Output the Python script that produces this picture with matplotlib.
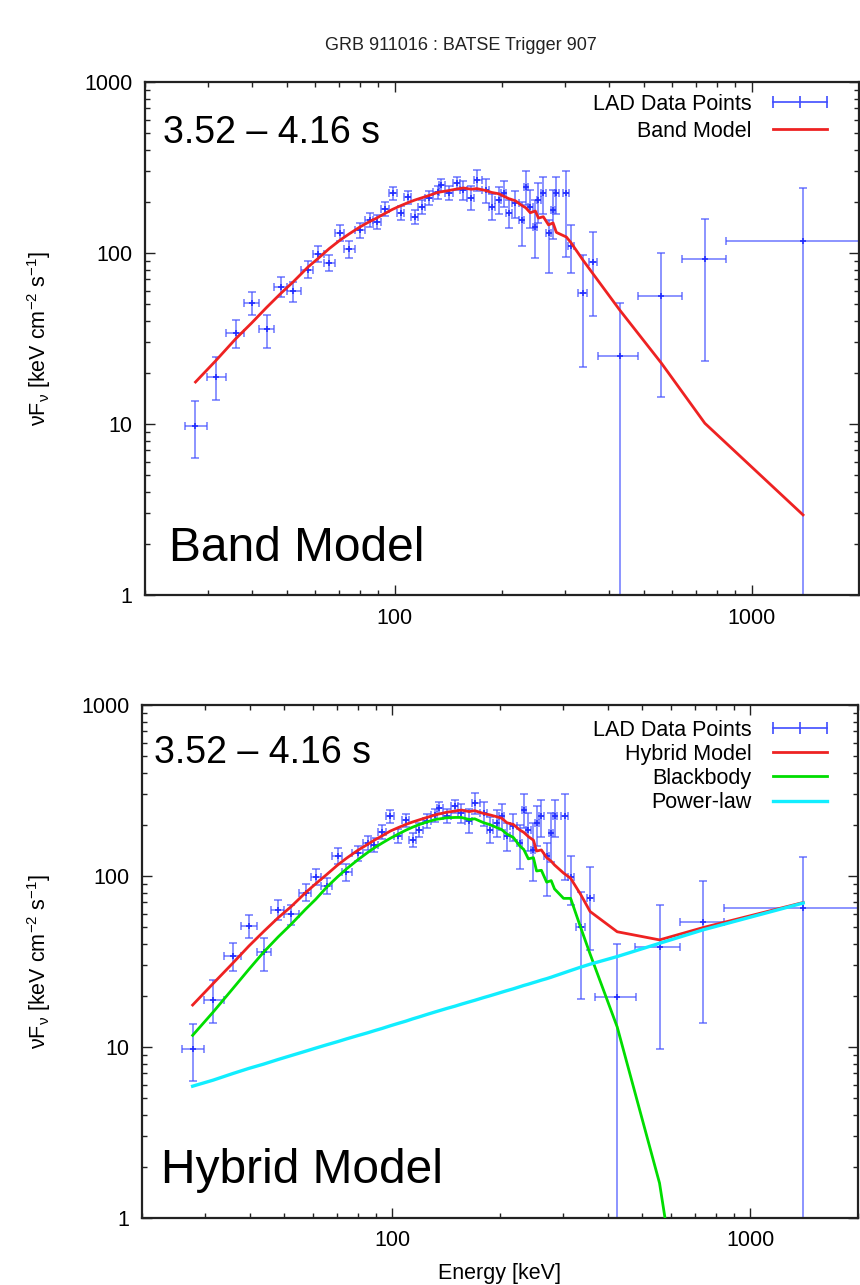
import numpy as np
import matplotlib
matplotlib.use("Agg")
import matplotlib.pyplot as plt
from matplotlib.lines import Line2D
from matplotlib.ticker import FixedLocator, LogLocator, NullFormatter

plt.rcParams['font.family'] = ['Liberation Sans', 'DejaVu Sans']
plt.rcParams['mathtext.default'] = 'regular'

# LAD data points, shared low-energy part (keV, keV cm^-2 s^-1)
low_E = [27.7, 31.6, 35.9, 39.8, 43.8, 48.0, 52.1, 57.3, 61.1, 65.6, 70.4, 74.5,
         80.0, 85.3, 89.1, 93.8, 98.7, 104, 109, 114, 119, 125, 132, 135, 142,
         150, 156, 164, 170, 180, 187, 196, 202, 209, 218, 227, 233, 240, 248,
         253, 261, 270, 278, 284, 303]
low_E_lo = [25.9, 29.8, 33.8, 37.9, 41.8, 46.0, 50.0, 54.8, 59.2, 63.4, 68.0,
            72.4, 77.3, 82.7, 87.2, 91.5, 96.2, 101.3, 106.5, 111.5, 116.5, 122,
            128.5, 133.5, 138.5, 146, 153, 160, 167, 175.5, 183.5, 191.5, 199,
            205.5, 213.5, 222.5, 230, 236.5, 244, 250.5, 257, 265.5, 274, 281, 297]
low_E_hi = [29.8, 33.8, 37.9, 41.8, 46.0, 50.0, 54.8, 59.2, 63.4, 68.0, 72.4,
            77.3, 82.7, 87.2, 91.5, 96.2, 101.3, 106.5, 111.5, 116.5, 122, 128.5,
            133.5, 138.5, 146, 153, 160, 167, 175.5, 183.5, 191.5, 199, 205.5,
            213.5, 222.5, 230, 236.5, 244, 250.5, 257, 265.5, 274, 281, 288, 309]
low_F = [9.7, 18.8, 34, 51, 36, 63, 60, 80, 99, 87.5, 131, 105, 136, 156, 152,
         181, 224, 171, 212, 162, 186, 210, 227, 250, 224, 256, 233, 210, 267,
         233, 186, 204, 224, 171, 196, 156, 243, 186, 142, 204, 224, 131, 178,
         224, 224]
low_F_lo = [6.3, 13.8, 27.8, 43.4, 28, 55, 52, 71, 89, 78, 118, 94, 123, 141,
            138, 165, 205, 155, 194, 147, 169, 192, 207, 229, 204, 234, 205, 178,
            230, 195, 155, 168, 185, 140, 160, 110, 190, 140, 94, 150, 170, 76,
            120, 170, 95]
low_F_hi = [13.6, 24.7, 40.5, 59, 43.4, 72, 68, 90, 110, 98, 145, 117, 150, 172,
            167, 198, 244, 188, 231, 178, 204, 229, 248, 272, 245, 280, 262, 245,
            305, 272, 220, 242, 265, 205, 232, 200, 300, 235, 204, 255, 280, 156,
            235, 280, 300]

# high-energy points, Band fit panel
band_tail_E = [312, 337, 359, 427, 559, 740, 1394]
band_tail_E_lo = [306, 327, 350, 371, 480, 640, 847]
band_tail_E_hi = [318, 347, 368, 480, 640, 847, 2300]
band_tail_F = [110, 58, 88, 25, 56, 92, 117]
band_tail_F_lo = [76, 21.5, 43, 0.5, 14.4, 23.3, 0.5]
band_tail_F_hi = [146, 97, 133, 51, 100, 158, 240]

# high-energy points, hybrid fit panel
hyb_tail_E = [315, 336, 357, 425, 558, 740, 1406]
hyb_tail_E_lo = [309, 327, 349, 368, 478, 637, 845]
hyb_tail_E_hi = [321, 346, 366, 479, 637, 845, 2300]
hyb_tail_F = [99, 50.6, 74, 19.5, 38.6, 53.6, 64.7]
hyb_tail_F_lo = [68, 19, 37, 0.5, 9.7, 13.9, 0.5]
hyb_tail_F_hi = [131, 81, 113, 40, 68, 94, 130]

# Band model curve
band_E = [27.7, 31.6, 35.9, 39.8, 43.8, 48.0, 52.1, 57.3, 61.1, 65.6, 70.4, 74.5,
          80.0, 85.3, 89.1, 93.8, 98.7, 104, 109, 114, 119, 125, 132, 142, 150,
          156, 164, 170, 180, 187, 196, 202, 209, 218, 227, 233, 240, 248, 253,
          261, 270, 278, 284, 303, 312, 337, 359, 427, 559, 740, 1394]
band_F = [17.6, 23.5, 31.5, 39, 48, 58, 68, 83, 93, 106, 119, 129, 142, 153, 160,
          170, 180, 189, 197, 204, 210, 217, 226, 232, 237, 240, 236, 238, 232,
          226, 222, 215, 208, 202, 190, 184, 172, 176, 160, 163, 146, 150, 132,
          124, 115, 91, 76, 46.5, 22.7, 10.1, 2.94]

# hybrid model and its components
hyb_E = [27.7, 31.6, 35.9, 39.8, 43.8, 48.0, 52.1, 57.3, 61.1, 65.6, 70.4, 74.5,
         80.0, 85.3, 89.1, 93.8, 98.7, 104, 109, 114, 119, 125, 132, 142, 150,
         156, 164, 170, 180, 187, 196, 202, 209, 218, 227, 233, 240, 248, 253,
         261, 270, 278, 284, 301, 315, 336, 357, 425, 558, 740, 1406]
hyb_F = [17.6, 23.5, 31, 39, 47.5, 57, 66, 80, 90, 102, 116, 127, 141, 153, 162,
         172, 183, 192, 200, 207, 213, 220, 228, 236, 240, 243, 238, 241, 232,
         228, 222, 218, 205, 200, 186, 180, 170, 162, 140, 142, 128, 122, 116,
         104, 97, 78, 62, 47.2, 42.3, 50, 70]
bb_F = [11.7, 16, 22, 28.5, 36, 44, 52, 64, 73, 86, 99, 110, 124, 137, 146, 156,
        166, 176, 185, 193, 200, 207, 214, 219, 220, 220, 214, 216, 205, 200,
        192, 187, 176, 168, 150, 143, 126, 128, 107, 108, 92, 94, 84, 74, 74,
        50, 35, 13.1, 1.6, 0.037, 1e-6]
pl_F = [5.9, 6.4, 7.0, 7.5, 7.95, 8.45, 8.9, 9.45, 9.85, 10.3, 10.75, 11.15,
        11.65, 12.1, 12.45, 12.85, 13.3, 13.75, 14.15, 14.6, 15.0, 15.5, 16.05,
        16.8, 17.35, 17.8, 18.35, 18.75, 19.45, 19.9, 20.5, 20.9, 21.35, 21.9,
        22.5, 22.9, 23.3, 23.8, 24.1, 24.6, 25.1, 25.6, 26.0, 27.1, 28.0, 29.3,
        30.5, 33.8, 40.4, 48.5, 69.5]

x_ticks = [100, 1000]
y_ticks = [1, 10, 100, 1000]

BLUE = (0.25, 0.3, 1.0)
FS = 15.5


def style_axes(ax):
    """Log-log axes with inward gnuplot-like ticks on all four sides."""
    ax.set_xscale('log')
    ax.set_yscale('log')
    ax.set_xlim(20, 2000)
    ax.set_ylim(1, 1000)
    ax.xaxis.set_major_locator(FixedLocator(x_ticks))
    ax.set_xticklabels([str(t) for t in x_ticks])
    ax.yaxis.set_major_locator(FixedLocator(y_ticks))
    ax.set_yticklabels([str(t) for t in y_ticks])
    for axis in (ax.xaxis, ax.yaxis):
        axis.set_minor_locator(LogLocator(base=10, subs=np.arange(2, 10)))
        axis.set_minor_formatter(NullFormatter())
    ax.tick_params(which='both', direction='in', top=True, right=True,
                   labelsize=FS, pad=9, width=1.0, color='#222222')
    ax.tick_params(which='major', length=7.5)
    ax.tick_params(which='minor', length=3.8)
    for sp in ax.spines.values():
        sp.set_linewidth(1.6)
        sp.set_color('#222222')
    ax.set_ylabel('$νF_{ν}$ [keV cm$^{-2}$ s$^{-1}$]', fontsize=FS, va='center')


def draw_points(ax, e, e_lo, e_hi, f, f_lo, f_hi):
    """LAD data points with energy and flux error bars."""
    e, e_lo, e_hi = np.array(e), np.array(e_lo), np.array(e_hi)
    f, f_lo, f_hi = np.array(f), np.array(f_lo), np.array(f_hi)
    ax.errorbar(e, f, xerr=[e - e_lo, e_hi - e], yerr=[f - f_lo, f_hi - f],
                fmt='none', ecolor=BLUE, alpha=0.7, elinewidth=1.2,
                capsize=2.8, capthick=1.2, zorder=2)
    ax.plot(e, f, '+', color=(0.1, 0.15, 1.0), alpha=0.9, markersize=5,
            markeredgewidth=1.2, zorder=2)


fig = plt.figure(figsize=(8.6, 12.85), dpi=100)
W, H = 860.0, 1285.0
ax1 = fig.add_axes([145 / W, 1 - 595 / H, 714 / W, 513 / H])
ax2 = fig.add_axes([142 / W, 1 - 1218 / H, 716 / W, 513 / H])

data_proxy = Line2D([], [], color=BLUE, lw=1.2, marker='|', markersize=8,
                    markeredgewidth=1.2)

# top: Band model
style_axes(ax1)
draw_points(ax1, low_E + band_tail_E, low_E_lo + band_tail_E_lo,
            low_E_hi + band_tail_E_hi, low_F + band_tail_F,
            low_F_lo + band_tail_F_lo, low_F_hi + band_tail_F_hi)
band_line, = ax1.plot(band_E, band_F, color='#ee2222', lw=2.0, zorder=3)
ax1.yaxis.set_label_coords((39 - 145) / 714, 0.5)
ax1.legend([data_proxy, band_line], ['LAD Data Points', 'Band Model'],
           loc='upper right', bbox_to_anchor=(833 / W, 1 - 94 / H),
           bbox_transform=fig.transFigure, frameon=False, markerfirst=False,
           fontsize=FS, handlelength=3.07, handletextpad=0.7,
           labelspacing=0.27, borderpad=0, borderaxespad=0, numpoints=3)

# bottom: hybrid model
style_axes(ax2)
draw_points(ax2, low_E + hyb_tail_E, low_E_lo + hyb_tail_E_lo,
            low_E_hi + hyb_tail_E_hi, low_F + hyb_tail_F,
            low_F_lo + hyb_tail_F_lo, low_F_hi + hyb_tail_F_hi)
hyb_line, = ax2.plot(hyb_E, hyb_F, color='#ee2222', lw=2.0, zorder=3)
bb_line, = ax2.plot(hyb_E, bb_F, color='#00dd00', lw=2.0, zorder=4)
pl_line, = ax2.plot(hyb_E, pl_F, color='#11eeff', lw=2.4, zorder=5)
ax2.yaxis.set_label_coords((39 - 142) / 716, 0.5)
ax2.set_xlabel('Energy [keV]', fontsize=FS, va='bottom')
ax2.xaxis.set_label_coords(0.5, (1218 - 1284) / 513)
ax2.legend([data_proxy, hyb_line, bb_line, pl_line],
           ['LAD Data Points', 'Hybrid Model', 'Blackbody', 'Power-law'],
           loc='upper right', bbox_to_anchor=(833 / W, 1 - 720 / H),
           bbox_transform=fig.transFigure, frameon=False, markerfirst=False,
           fontsize=FS, handlelength=3.07, handletextpad=0.7,
           labelspacing=0.14, borderpad=0, borderaxespad=0, numpoints=3)

fig.text(461 / W, 1 - 45 / H, 'GRB 911016 : BATSE Trigger 907',
         ha='center', va='center', fontsize=13, color='#222222')
fig.text(163 / W, 1 - 143 / H, '3.52 – 4.16 s', fontsize=27, va='baseline')
fig.text(169 / W, 1 - 561 / H, 'Band Model', fontsize=34.5, va='baseline')
fig.text(154 / W, 1 - 763 / H, '3.52 – 4.16 s', fontsize=27, va='baseline')
fig.text(161 / W, 1 - 1183 / H, 'Hybrid Model', fontsize=34.5, va='baseline')

fig.savefig('out.png', dpi=100)
